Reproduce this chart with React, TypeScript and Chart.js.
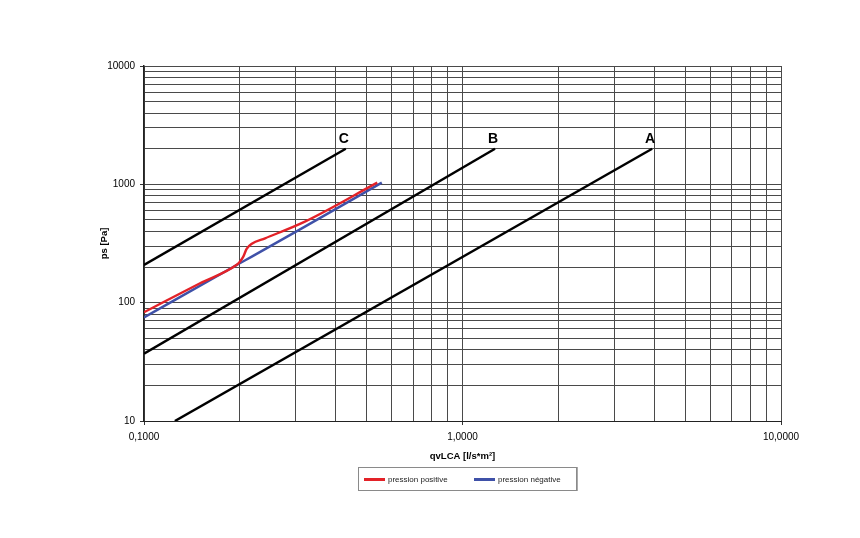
import React, { useEffect, useRef } from "react";
import { Chart, registerables } from "chart.js";

Chart.register(...registerables);

// X ticks (qvLCA, l/s*m²) and Y ticks (ps, Pa)
const xTickValues = [0.1, 0.2, 0.3, 0.4, 0.5, 0.6, 0.7, 0.8, 0.9, 1, 2, 3, 4, 5, 6, 7, 8, 9, 10];
const yTickValues = [
  10, 20, 30, 40, 50, 60, 70, 80, 90,
  100, 200, 300, 400, 500, 600, 700, 800, 900,
  1000, 2000, 3000, 4000, 5000, 6000, 7000, 8000, 9000, 10000,
];
const labelledX = [0.1, 1, 10];
const labelledY = [10, 100, 1000, 10000];

// Class lines
const lineAq = [0.125, 3.94];
const lineAp = [10, 2000];
const lineBq = [0.1, 1.265];
const lineBp = [37, 2000];
const lineCq = [0.1, 0.43];
const lineCp = [208, 2000];

// Measured curves
const positiveQ = [0.1, 0.15, 0.195, 0.2, 0.205, 0.21, 0.218, 0.24, 0.32, 0.54];
const positiveP = [83, 146, 208, 222, 245, 285, 315, 350, 484, 1033];
const negativeQ = [0.1, 0.198, 0.218, 0.32, 0.558];
const negativeP = [75, 212, 245, 439, 1033];

const classNames = ["A", "B", "C"];
const seriesNames = ["pression positive", "pression négative"];
const seriesColors = ["#e32228", "#3f51a8"];

const pts = (q: number[], p: number[]) => q.map((v, i) => ({ x: v, y: p[i] }));

const FONT = "'Liberation Sans', Arial, Helvetica, sans-serif";

const classLabelPlugin = {
  id: "classLabels",
  afterDatasetsDraw(chart: any) {
    const ctx = chart.ctx;
    ctx.save();
    ctx.font = `bold 14px ${FONT}`;
    ctx.fillStyle = "#000";
    ctx.textAlign = "center";
    ctx.textBaseline = "middle";
    chart.data.datasets.forEach((ds: any, i: number) => {
      if (!ds.classLabel) return;
      const meta = chart.getDatasetMeta(i);
      const last = meta.data[meta.data.length - 1];
      ctx.fillText(ds.classLabel, last.x - 2, last.y - 10);
    });
    ctx.restore();
  },
};

export default function App() {
  const ref = useRef<HTMLCanvasElement | null>(null);

  useEffect(() => {
    if (!ref.current) return;
    const classLine = (name: string, q: number[], p: number[]) => ({
      label: name,
      classLabel: name,
      data: pts(q, p),
      borderColor: "#000",
      backgroundColor: "#000",
      borderWidth: 2.5,
      pointRadius: 0,
      tension: 0,
    });
    const chart = new Chart(ref.current, {
      type: "line",
      data: {
        datasets: [
          classLine(classNames[0], lineAq, lineAp),
          classLine(classNames[1], lineBq, lineBp),
          classLine(classNames[2], lineCq, lineCp),
          {
            label: seriesNames[0],
            data: pts(positiveQ, positiveP),
            borderColor: seriesColors[0],
            backgroundColor: seriesColors[0],
            borderWidth: 2.4,
            pointRadius: 0,
            cubicInterpolationMode: "monotone",
          },
          {
            label: seriesNames[1],
            data: pts(negativeQ, negativeP),
            borderColor: seriesColors[1],
            backgroundColor: seriesColors[1],
            borderWidth: 2.4,
            pointRadius: 0,
            cubicInterpolationMode: "monotone",
          },
        ] as any,
      },
      options: {
        animation: false,
        responsive: false,
        devicePixelRatio: 1,
        layout: { padding: { left: 94, right: 79, top: 66, bottom: 72 } },
        plugins: { legend: { display: false }, tooltip: { enabled: false } },
        scales: {
          x: {
            type: "logarithmic",
            min: 0.1,
            max: 10,
            afterBuildTicks: (scale: any) => {
              scale.ticks = xTickValues.map((v) => ({ value: v }));
            },
            afterFit: (scale: any) => {
              scale.height = 45;
            },
            ticks: {
              autoSkip: false,
              maxRotation: 0,
              padding: 6,
              color: "#000",
              font: { family: FONT, size: 10 },
              callback: (v: any) =>
                labelledX.includes(Number(v)) ? Number(v).toFixed(4).replace(".", ",") : "",
            },
            grid: {
              color: "#4a4a4a",
              lineWidth: 1,
              tickLength: 4,
              tickColor: (c: any) =>
                c.tick && labelledX.includes(Number(c.tick.value)) ? "#333" : "rgba(0,0,0,0)",
            },
            border: { color: "#222", width: 1 },
            title: {
              display: true,
              text: "qvLCA [l/s*m²]",
              color: "#000",
              font: { family: FONT, size: 9.5, weight: "bold" },
              padding: { top: 4, bottom: 4 },
            },
          },
          y: {
            type: "logarithmic",
            min: 10,
            max: 10000,
            afterBuildTicks: (scale: any) => {
              scale.ticks = yTickValues.map((v) => ({ value: v }));
            },
            afterFit: (scale: any) => {
              scale.width = 50;
            },
            ticks: {
              autoSkip: false,
              padding: 5,
              color: "#000",
              font: { family: FONT, size: 10 },
              callback: (v: any) => (labelledY.includes(Number(v)) ? String(v) : ""),
            },
            grid: {
              color: "#4a4a4a",
              lineWidth: 1,
              tickLength: 4,
              tickColor: (c: any) =>
                c.tick && labelledY.includes(Number(c.tick.value)) ? "#333" : "rgba(0,0,0,0)",
            },
            border: { color: "#222", width: 1.5 },
            title: {
              display: true,
              text: "ps [Pa]",
              color: "#000",
              font: { family: FONT, size: 9.5, weight: "bold" },
              padding: { top: 5, bottom: 4 },
            },
          },
        },
      } as any,
      plugins: [classLabelPlugin],
    });
    return () => chart.destroy();
  }, []);

  const legendItem = (i: number, left: number) => (
    <div
      key={i}
      style={{ position: "absolute", left, top: 0, height: 23, display: "flex", alignItems: "center" }}
    >
      <div style={{ width: 21, height: 3, background: seriesColors[i], marginRight: 3 }} />
      <span style={{ fontFamily: FONT, fontSize: 8, color: "#222", whiteSpace: "nowrap" }}>
        {seriesNames[i]}
      </span>
    </div>
  );

  return (
    <div style={{ position: "absolute", left: 0, top: 0, width: 860, height: 538, background: "#fff" }}>
      <canvas ref={ref} width={860} height={538} style={{ display: "block" }} />
      <div
        style={{
          position: "absolute",
          left: 358,
          top: 467,
          width: 217,
          height: 22,
          border: "1px solid #8a8a8a",
          boxShadow: "1px 0 0 #aaa",
          background: "#fff",
        }}
      >
        {legendItem(0, 5)}
        {legendItem(1, 115)}
      </div>
    </div>
  );
}
